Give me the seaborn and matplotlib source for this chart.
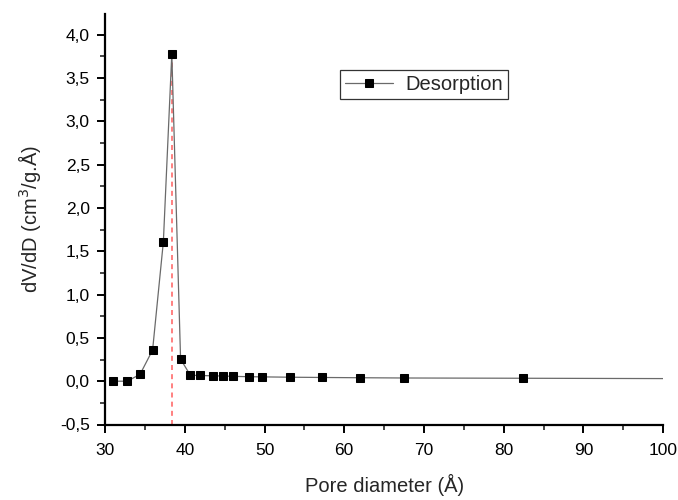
import matplotlib
matplotlib.use("Agg")
import matplotlib.pyplot as plt
from matplotlib.ticker import MultipleLocator, FuncFormatter
import seaborn as sns
import pandas as pd

# Data
pore_diameter = [30.97, 32.80, 34.39, 35.96, 37.31, 38.37, 39.47, 40.70, 41.92,
                 43.49, 44.77, 46.04, 48.00, 49.66, 53.21, 57.26, 62.0, 67.5, 82.4, 110.0]
dvdd = [0.0, 0.0, 0.08, 0.36, 1.61, 3.78, 0.255, 0.068, 0.066,
        0.062, 0.06, 0.056, 0.052, 0.05, 0.046, 0.043, 0.04, 0.037, 0.034, 0.028]
peak_x = 38.37
peak_y = 3.78
series_name = "Desorption"

df = pd.DataFrame({"x": pore_diameter, "y": dvdd})

sns.set_theme(style="ticks")
plt.rcParams['font.family'] = ['Liberation Sans', 'DejaVu Sans']

fig = plt.figure(figsize=(6.78, 5.0), dpi=100)
ax = fig.add_axes([0.155, 0.151, 0.823, 0.821])

sns.lineplot(data=df, x="x", y="y", ax=ax, color="#6a6a6a", linewidth=0.9,
             marker="s", markersize=6.3, markerfacecolor="black",
             markeredgecolor="black", label=series_name, sort=True)

ax.plot([peak_x, peak_x], [-0.5, peak_y], linestyle=(0, (3, 2.5)),
        color="#ff6b6b", linewidth=1.2, zorder=1)

ax.set_xlim(30, 100)
ax.set_ylim(-0.5, 4.24)
ax.xaxis.set_major_locator(MultipleLocator(10))
ax.xaxis.set_minor_locator(MultipleLocator(5))
ax.yaxis.set_major_locator(MultipleLocator(0.5))
ax.yaxis.set_minor_locator(MultipleLocator(0.25))
ax.yaxis.set_major_formatter(FuncFormatter(lambda v, p: f"{v:.1f}".replace(".", ",")))

for side in ["top", "right"]:
    ax.spines[side].set_visible(False)
for side in ["left", "bottom"]:
    ax.spines[side].set_linewidth(1.6)
    ax.spines[side].set_color("black")

ax.tick_params(axis="both", which="major", direction="out", length=6, width=1.4,
               labelsize=12.5, colors="black", pad=5)
ax.tick_params(axis="x", which="major", pad=7)
ax.tick_params(axis="both", which="minor", direction="out", length=3.5, width=1.2)

ax.set_xlabel("Pore diameter (Å)", fontsize=14.5, labelpad=12)
ax.set_ylabel("dV/dD (cm$^{3}$/g.Å)", fontsize=14.5, labelpad=12)

leg = ax.legend(loc="upper left", bbox_to_anchor=(0.421, 0.864), borderaxespad=0,
                frameon=True, fancybox=False, fontsize=14.5, handlelength=2.4,
                borderpad=0.25, handletextpad=0.6)
leg.get_frame().set_edgecolor("black")
leg.get_frame().set_linewidth(0.9)

fig.savefig("out.png", dpi=100)
